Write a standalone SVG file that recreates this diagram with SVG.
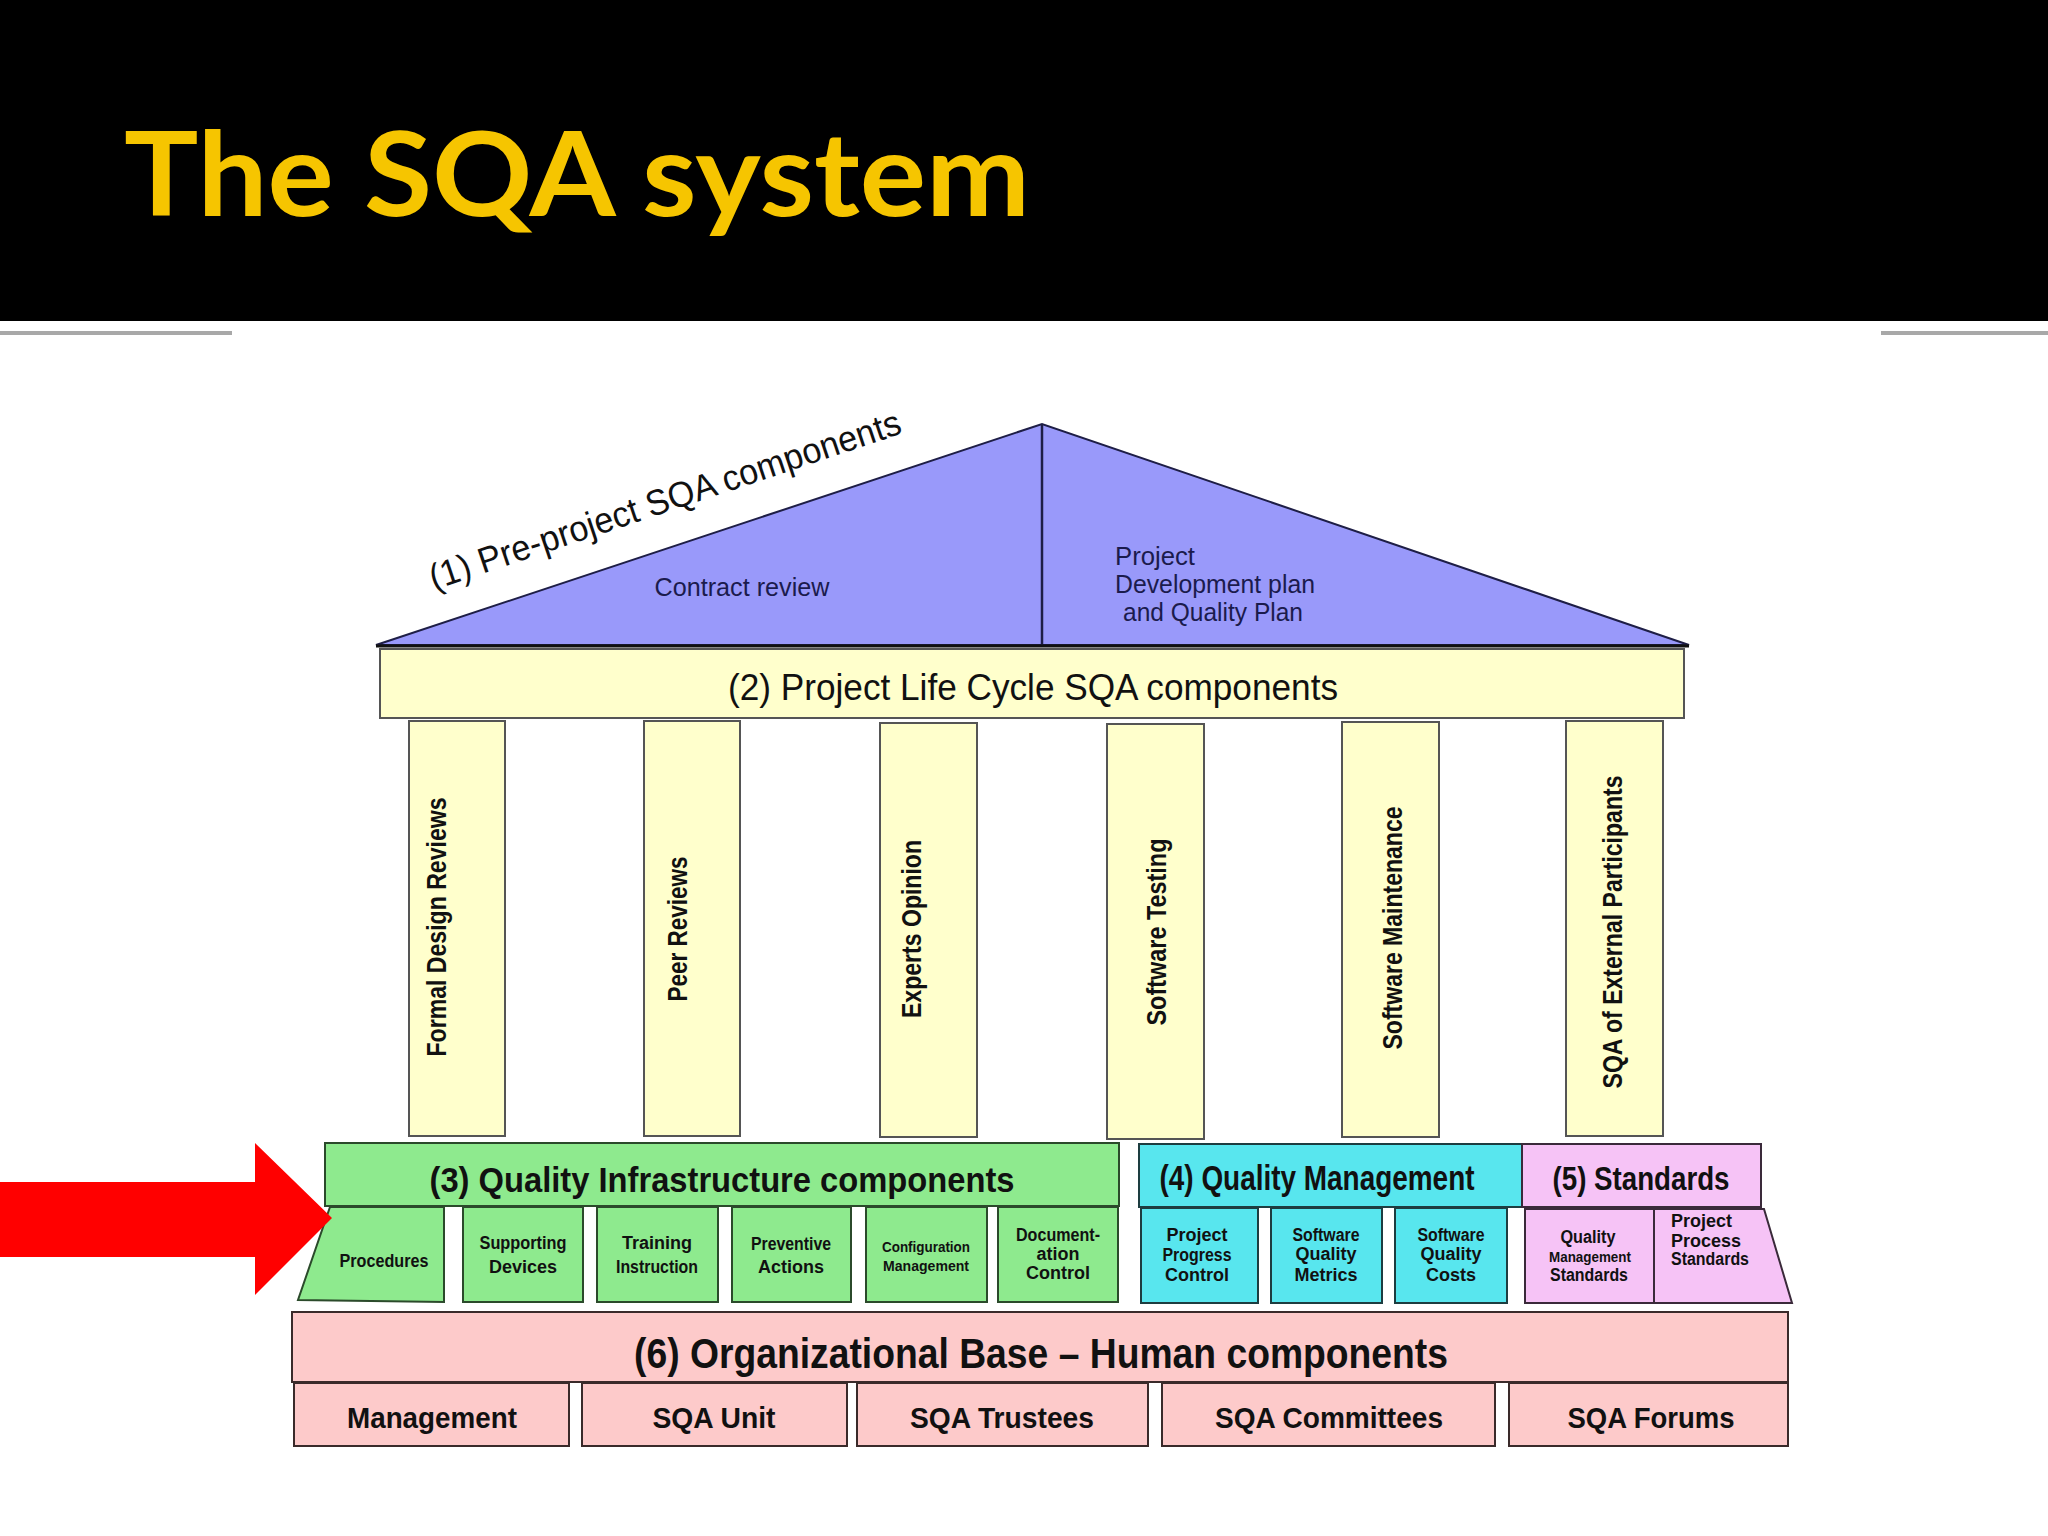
<svg xmlns="http://www.w3.org/2000/svg" width="2048" height="1536" viewBox="0 0 2048 1536">
<style>
.t{font-family:"Liberation Sans",Arial,Helvetica,sans-serif;fill:#111;}
.m{text-anchor:middle;}
.b{font-weight:bold;}
.hd{font-size:36px;}
.pl{font-size:28px;font-weight:bold;text-anchor:middle;}
.sm{font-size:18px;font-weight:bold;text-anchor:middle;}
.sl{font-size:18px;font-weight:bold;text-anchor:start;}
.xs{font-size:14px;font-weight:bold;text-anchor:middle;}
.bt{font-size:30px;font-weight:bold;text-anchor:middle;}
.roof{font-family:"Liberation Sans",Arial,sans-serif;fill:#1b1b4d;font-size:26px;}
.pillar{fill:#FFFFCC;stroke:#555;stroke-width:2;}
.green{fill:#8EEA8E;stroke:#2b4a2b;stroke-width:2;}
.cyan{fill:#58E6EE;stroke:#1d3d40;stroke-width:2;}
.vio{fill:#F6C3F6;stroke:#3a2a3a;stroke-width:2;}
.base{fill:#FDCACA;stroke:#3a2a2a;stroke-width:2;}
</style>
<rect width="2048" height="1536" fill="#FFFFFF"/>

<g id="title-bar">
  <rect x="0" y="0" width="2048" height="321" fill="#000000"/>
  <text x="124" y="216" font-family="Lato,'Open Sans',sans-serif" font-weight="bold" font-size="117" fill="#F6C500" textLength="906" lengthAdjust="spacingAndGlyphs">The SQA system</text>
  <rect x="0" y="331" width="232" height="4" fill="#A8A8A8"/>
  <rect x="1881" y="331" width="167" height="4" fill="#A8A8A8"/>
</g>

<g id="roof">
  <polygon points="376,645 1042,424 1689,645" fill="#9999FA" stroke="#1e1e46" stroke-width="2"/>
  <line x1="1042" y1="424" x2="1042" y2="645" stroke="#1e1e46" stroke-width="2.5"/>
  <line x1="376" y1="646" x2="1689" y2="646" stroke="#111" stroke-width="3"/>
  <text class="t" font-size="36" transform="translate(434,590) rotate(-18.5)" textLength="495" lengthAdjust="spacingAndGlyphs">(1) Pre-project SQA components</text>
  <text class="roof" x="742" y="596" text-anchor="middle" textLength="175" lengthAdjust="spacingAndGlyphs">Contract review</text>
  <text class="roof" x="1115" y="565" textLength="80" lengthAdjust="spacingAndGlyphs">Project</text>
  <text class="roof" x="1115" y="593" textLength="200" lengthAdjust="spacingAndGlyphs">Development plan</text>
  <text class="roof" x="1123" y="621" textLength="180" lengthAdjust="spacingAndGlyphs">and Quality  Plan</text>
</g>

<g id="life-cycle-beam">
  <rect x="380" y="649" width="1304" height="69" fill="#FFFFCC" stroke="#555" stroke-width="2"/>
  <text class="t m hd" x="1033" y="700" textLength="610" lengthAdjust="spacingAndGlyphs">(2) Project Life Cycle SQA components</text>
</g>

<g id="pillar-formal-design-reviews">
  <rect class="pillar" x="409" y="721" width="96" height="415"/>
  <text class="t pl" transform="translate(446,927) rotate(-90)" textLength="259" lengthAdjust="spacingAndGlyphs">Formal Design Reviews</text>
</g>
<g id="pillar-peer-reviews">
  <rect class="pillar" x="644" y="721" width="96" height="415"/>
  <text class="t pl" transform="translate(687,929) rotate(-90)" textLength="145" lengthAdjust="spacingAndGlyphs">Peer Reviews</text>
</g>
<g id="pillar-experts-opinion">
  <rect class="pillar" x="880" y="723" width="97" height="414"/>
  <text class="t pl" transform="translate(921,929) rotate(-90)" textLength="178" lengthAdjust="spacingAndGlyphs">Experts Opinion</text>
</g>
<g id="pillar-software-testing">
  <rect class="pillar" x="1107" y="724" width="97" height="415"/>
  <text class="t pl" transform="translate(1166,932) rotate(-90)" textLength="187" lengthAdjust="spacingAndGlyphs">Software Testing</text>
</g>
<g id="pillar-software-maintenance">
  <rect class="pillar" x="1342" y="722" width="97" height="415"/>
  <text class="t pl" transform="translate(1402,928) rotate(-90)" textLength="243" lengthAdjust="spacingAndGlyphs">Software Maintenance</text>
</g>
<g id="pillar-sqa-external">
  <rect class="pillar" x="1566" y="721" width="97" height="415"/>
  <text class="t pl" transform="translate(1622,932) rotate(-90)" textLength="313" lengthAdjust="spacingAndGlyphs">SQA of External Participants</text>
</g>

<g id="quality-infrastructure">
  <rect class="green" x="325" y="1143" width="794" height="63"/>
  <text class="t m b" font-size="35" x="722" y="1192" textLength="585" lengthAdjust="spacingAndGlyphs">(3) Quality Infrastructure components</text>
  <g id="qi-procedures">
    <polygon class="green" points="330,1207 444,1207 444,1302 298,1300"/>
    <text class="t sm" x="384" y="1267" textLength="89" lengthAdjust="spacingAndGlyphs">Procedures</text>
  </g>
  <g id="qi-supporting-devices">
    <rect class="green" x="463" y="1207" width="120" height="95"/>
    <text class="t sm" x="523" y="1249" textLength="87" lengthAdjust="spacingAndGlyphs">Supporting</text>
    <text class="t sm" x="523" y="1273">Devices</text>
  </g>
  <g id="qi-training-instruction">
    <rect class="green" x="597" y="1207" width="121" height="95"/>
    <text class="t sm" x="657" y="1249">Training</text>
    <text class="t sm" x="657" y="1273" textLength="82" lengthAdjust="spacingAndGlyphs">Instruction</text>
  </g>
  <g id="qi-preventive-actions">
    <rect class="green" x="732" y="1207" width="119" height="95"/>
    <text class="t sm" x="791" y="1250" textLength="80" lengthAdjust="spacingAndGlyphs">Preventive</text>
    <text class="t sm" x="791" y="1273">Actions</text>
  </g>
  <g id="qi-configuration-management">
    <rect class="green" x="866" y="1207" width="121" height="95"/>
    <text class="t xs" x="926" y="1252" textLength="88" lengthAdjust="spacingAndGlyphs">Configuration</text>
    <text class="t xs" x="926" y="1271" textLength="86" lengthAdjust="spacingAndGlyphs">Management</text>
  </g>
  <g id="qi-documentation-control">
    <rect class="green" x="998" y="1207" width="120" height="95"/>
    <text class="t sm" x="1058" y="1241" textLength="84" lengthAdjust="spacingAndGlyphs">Document-</text>
    <text class="t sm" x="1058" y="1260">ation</text>
    <text class="t sm" x="1058" y="1279">Control</text>
  </g>
</g>

<g id="quality-management">
  <rect class="cyan" x="1139" y="1144" width="383" height="63"/>
  <text class="t m b" font-size="35" x="1317" y="1190" textLength="315" lengthAdjust="spacingAndGlyphs">(4) Quality Management</text>
  <g id="qm-progress-control">
    <rect class="cyan" x="1141" y="1208" width="117" height="95"/>
    <text class="t sm" x="1197" y="1241">Project</text>
    <text class="t sm" x="1197" y="1261" textLength="69" lengthAdjust="spacingAndGlyphs">Progress</text>
    <text class="t sm" x="1197" y="1281">Control</text>
  </g>
  <g id="qm-quality-metrics">
    <rect class="cyan" x="1271" y="1208" width="111" height="95"/>
    <text class="t sm" x="1326" y="1241" textLength="67" lengthAdjust="spacingAndGlyphs">Software</text>
    <text class="t sm" x="1326" y="1260">Quality</text>
    <text class="t sm" x="1326" y="1281">Metrics</text>
  </g>
  <g id="qm-quality-costs">
    <rect class="cyan" x="1395" y="1208" width="112" height="95"/>
    <text class="t sm" x="1451" y="1241" textLength="67" lengthAdjust="spacingAndGlyphs">Software</text>
    <text class="t sm" x="1451" y="1260">Quality</text>
    <text class="t sm" x="1451" y="1281">Costs</text>
  </g>
</g>

<g id="standards">
  <rect class="vio" x="1522" y="1144" width="239" height="63"/>
  <text class="t m b" font-size="33" x="1641" y="1190" textLength="177" lengthAdjust="spacingAndGlyphs">(5) Standards</text>
  <g id="st-quality-management">
    <rect class="vio" x="1525" y="1209" width="129" height="94"/>
    <text class="t sm" x="1588" y="1243" textLength="55" lengthAdjust="spacingAndGlyphs">Quality</text>
    <text class="t xs" x="1590" y="1262" textLength="82" lengthAdjust="spacingAndGlyphs">Management</text>
    <text class="t sm" x="1589" y="1281" textLength="78" lengthAdjust="spacingAndGlyphs">Standards</text>
  </g>
  <g id="st-project-process">
    <polygon class="vio" points="1654,1209 1764,1209 1792,1303 1654,1303"/>
    <text class="t sl" x="1671" y="1227">Project</text>
    <text class="t sl" x="1671" y="1247">Process</text>
    <text class="t sl" x="1671" y="1265" textLength="78" lengthAdjust="spacingAndGlyphs">Standards</text>
  </g>
</g>

<g id="organizational-base">
  <rect class="base" x="292" y="1312" width="1496" height="70"/>
  <text class="t m b" font-size="42" x="1041" y="1368" textLength="814" lengthAdjust="spacingAndGlyphs">(6) Organizational Base – Human components</text>
  <g id="ob-management">
    <rect class="base" x="294" y="1383" width="275" height="63"/>
    <text class="t bt" x="432" y="1428" textLength="170" lengthAdjust="spacingAndGlyphs">Management</text>
  </g>
  <g id="ob-sqa-unit">
    <rect class="base" x="582" y="1383" width="265" height="63"/>
    <text class="t bt" x="714" y="1428" textLength="123" lengthAdjust="spacingAndGlyphs">SQA Unit</text>
  </g>
  <g id="ob-sqa-trustees">
    <rect class="base" x="857" y="1383" width="291" height="63"/>
    <text class="t bt" x="1002" y="1428" textLength="184" lengthAdjust="spacingAndGlyphs">SQA Trustees</text>
  </g>
  <g id="ob-sqa-committees">
    <rect class="base" x="1162" y="1383" width="333" height="63"/>
    <text class="t bt" x="1329" y="1428" textLength="228" lengthAdjust="spacingAndGlyphs">SQA Committees</text>
  </g>
  <g id="ob-sqa-forums">
    <rect class="base" x="1509" y="1383" width="279" height="63"/>
    <text class="t bt" x="1651" y="1428" textLength="167" lengthAdjust="spacingAndGlyphs">SQA Forums</text>
  </g>
</g>

<g id="connectors">
  <path d="M0,1182 H255 V1143 L332,1218 L255,1295 V1257 H0 Z" fill="#FF0000"/>
</g>
</svg>
